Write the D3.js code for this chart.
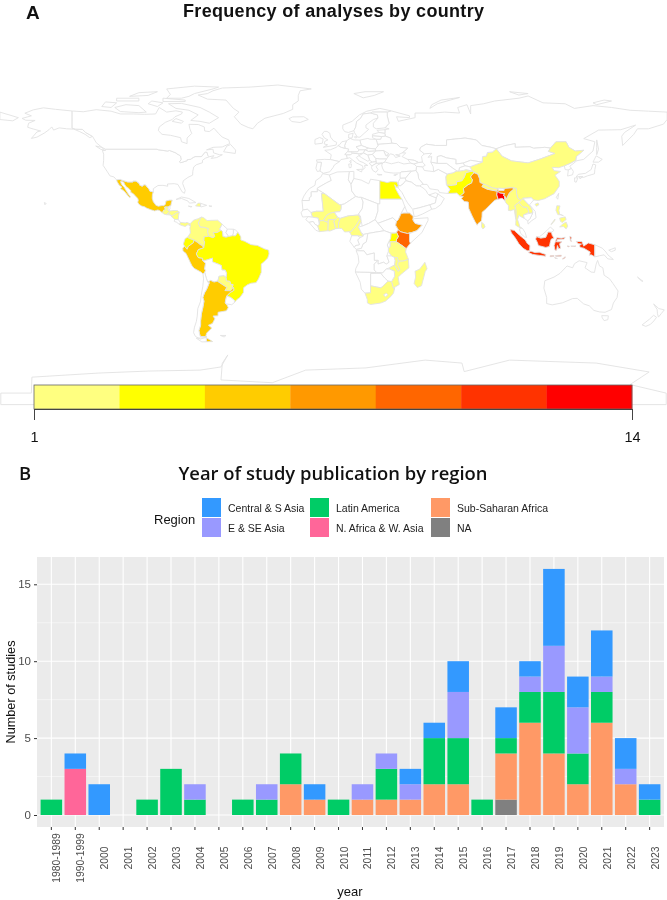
<!DOCTYPE html>
<html>
<head>
<meta charset="utf-8">
<title>Frequency of analyses and year of publication</title>
<script src="https://cdn.jsdelivr.net/npm/d3@7"></script>
<style>
  html, body { margin: 0; padding: 0; background: #fff; }
  svg { display: block; font-family: "Liberation Sans", Arial, sans-serif; filter: blur(0.35px); }
  .heading { font-family: "Open Sans", sans-serif; font-weight: 600; fill: #111; }
  .land { stroke: #e2e2e2; stroke-width: 0.9; stroke-linejoin: round; }
  .y-axis text, .x-axis text { fill: #4d4d4d; }
  .y-axis line, .x-axis line { stroke: #333; }
</style>
</head>
<body>
<script>
// Bar chart data
const years = ["1980-1989", "1990-1999", "2000", "2001", "2002", "2003", "2004", "2005", "2006", "2007", "2008", "2009", "2010", "2011", "2012", "2013", "2014", "2015", "2016", "2017", "2018", "2019", "2020", "2021", "2022", "2023"];
const naRegion     = [0,0,0,0,0,0,0,0,0,0,0,0,0,0,0,0,0,0,0,1,0,0,0,0,0,0];
const subSaharan   = [0,0,0,0,0,0,0,0,0,0,2,1,0,1,1,1,2,2,0,3,6,4,2,6,2,0];
const nAfricaWAsia = [0,3,0,0,0,0,0,0,0,0,0,0,0,0,0,0,0,0,0,0,0,0,0,0,0,0];
const latinAmerica = [1,0,0,0,1,3,1,0,1,1,2,0,1,0,2,0,3,3,1,1,2,4,2,2,0,1];
const eastSEAsia   = [0,0,0,0,0,0,1,0,0,1,0,0,0,1,1,1,0,3,0,0,1,3,3,1,1,0];
const centralSAsia = [0,1,2,0,0,0,0,0,0,0,0,1,0,0,0,1,1,2,0,2,1,5,2,3,2,1];
const regionKeys = ["NA", "Sub-Saharan Africa", "N. Africa & W. Asia", "Latin America", "E & SE Asia", "Central & S Asia"];
const regionValues = [naRegion, subSaharan, nAfricaWAsia, latinAmerica, eastSEAsia, centralSAsia];
const regionColors = ["#808080", "#FF9966", "#FF6699", "#00CC66", "#9999FF", "#3399FF"];
const legendOrder = ["Central & S Asia", "E & SE Asia", "Latin America", "N. Africa & W. Asia", "Sub-Saharan Africa", "NA"];
const yTicks = [0, 5, 10, 15];
const yMinorTicks = [2.5, 7.5, 12.5];

// Map data
const heatColors = ["#FFFF80", "#FFFF00", "#FFCC00", "#FF9900", "#FF6600", "#FF3300", "#FF0000"];
const countRange = [1, 14];
const analysisCounts = {
  Mexico: 5, Guatemala: 1, Honduras: 1, Nicaragua: 1, ElSalvador: 1, Panama: 1, Haiti: 1,
  Colombia: 1, Venezuela: 1, Ecuador: 3, Peru: 5, Brazil: 3, Paraguay: 1, Argentina: 5,
  Egypt: 3, Mali: 1, Burkina: 1, IvoryCoast: 1, Ghana: 1, TogoBenin: 1, Nigeria: 1, Cameroon: 1,
  Ethiopia: 7, Kenya: 9, Uganda: 3, Tanzania: 1, Malawi: 1, Mozambique: 1, Madagascar: 1, SouthAfrica: 1,
  Afghanistan: 1, Pakistan: 3, India: 7, Bangladesh: 14, Nepal: 1, SriLanka: 1, China: 1,
  Myanmar: 1, Thailand: 1, Laos: 1, Philippines: 1, Indonesia: 11
};

// Rough country outlines as "lon,lat lon,lat ..." rings
const countryOutlines = {
  Mexico: ["-117.1,32.5 -114.7,32.7 -114.8,32.5 -111,31.3 -108.2,31.3 -108.2,31.8 -106.5,31.8 -104.9,30.6 -104.5,29.6 -103.1,29 -102.4,29.8 -101.4,29.8 -100.3,28.3 -99.5,27.5 -99.1,26.4 -97.2,25.9 -97.7,24.5 -97.8,22.5 -97.2,20.6 -96.2,19.3 -95.9,18.8 -94.5,18.2 -92.5,18.6 -91.5,18.5 -90.7,19.3 -90.4,21 -88.5,21.5 -87,21.5 -87.5,20 -87.8,18.4 -88.3,18.5 -88.9,17.9 -89.15,17.8 -91,17.8 -91,17.2 -90.4,16.4 -91.7,16 -92.2,14.6 -93.9,15.9 -94.8,16.2 -96.5,15.7 -98.5,16.3 -100.8,17.2 -101.9,17.9 -103.5,18.3 -105,19.3 -105.6,20.4 -105.3,21.5 -105.7,22.5 -106.9,23.8 -108,25 -109.4,25.7 -109.3,26.6 -110.6,27.9 -111.8,28.7 -112.8,30.2 -113.1,31.2 -114.8,31.8 -114.7,30.9 -114.2,29.8 -112.9,28.4 -112,26.9 -110.7,24.8 -109.5,23.2 -110,22.9 -111,24 -112.2,25.5 -113.5,26.8 -114.9,27.7 -114.2,28.6 -115.6,29.6 -116.7,31.4"],
  Guatemala: ["-92.2,14.6 -91.7,16 -90.4,16.4 -91,17.2 -91,17.8 -89.15,17.8 -89.2,15.9 -88.2,15.7 -89.2,14.4 -90,13.7 -91.3,13.9"],
  Belize: ["-88.3,18.5 -88.9,17.9 -89.15,17.8 -89.2,15.9 -88.7,16 -88.2,16.9"],
  Honduras: ["-88.2,15.7 -86,15.9 -84,15.8 -83.2,15 -84.5,14.7 -85.7,13.9 -87,13 -87.8,13.4 -89.2,14.4"],
  Nicaragua: ["-83.2,15 -83.6,13 -83.7,11 -85.7,11.1 -87.7,12.9 -87,13 -85.7,13.9 -84.5,14.7"],
  ElSalvador: ["-89.2,14.4 -87.8,13.4 -90,13.7"],
  CostaRica: ["-83.7,11 -82.6,9.5 -83,8.3 -84.7,9.6 -85.9,10 -85.7,11.1"],
  Panama: ["-83,8.3 -82.6,9.5 -80,9.2 -79,9.5 -77.4,8.7 -77.2,7.5 -78.5,8.3 -80,7.3 -81.7,7.8"],
  Colombia: ["-77.4,8.7 -75.5,10.7 -73,11.5 -71.3,12.4 -72,11 -72.9,9.1 -72,7.1 -70,6.9 -67.5,6.2 -67.9,4.5 -67.3,2 -69.8,1.7 -69.9,-0.3 -69.5,-1 -70,-4.2 -70.9,-3 -72,-2.4 -73.5,-1.2 -75.2,-0.1 -77.7,0.8 -78.8,1.4 -77.2,3.8 -77.5,6.6 -77.2,7.5"],
  Venezuela: ["-71.3,12.4 -72,11 -72.9,9.1 -72,7.1 -70,6.9 -67.5,6.2 -67.9,4.5 -67.3,2 -65,1.2 -64,1.9 -64.8,4 -62.8,4 -60.7,5.2 -61.4,5.9 -60,8.5 -62.5,10.7 -66,10.6 -68.2,10.5 -70,12"],
  Guyana: ["-61.4,5.9 -60.7,5.2 -59.9,4.5 -59.7,1.9 -58,1.5 -56.5,1.9 -58,4 -57.2,5.9 -58.5,7 -60,8.5"],
  Suriname: ["-57.2,5.9 -58,4 -56.5,1.9 -54.5,2.3 -54,3.6 -54,5.8"],
  FrenchGuiana: ["-54,5.8 -54,3.6 -54.5,2.3 -52.9,2.2 -51.6,4.2 -52.9,5.4"],
  Ecuador: ["-80.3,-3.4 -81,-2.2 -80,0.8 -78.8,1.4 -77.7,0.8 -75.2,-0.1 -75.6,-1.5 -78.3,-3.4 -79,-5"],
  Peru: ["-80.3,-3.4 -79,-5 -78.3,-3.4 -75.6,-1.5 -75.2,-0.1 -73.5,-1.2 -72,-2.4 -70.9,-3 -70,-4.2 -72.9,-5.2 -74,-7.5 -72.9,-9.5 -70.6,-9.8 -70.6,-11 -69,-12.5 -69.5,-15.5 -69,-16.5 -69.5,-17.5 -70.4,-18.3 -71.5,-17.3 -75.2,-15.3 -76.4,-13.8 -77.3,-12 -78.7,-9 -79.6,-7.2 -81.2,-6 -81.3,-4.3"],
  Brazil: ["-51.6,4.2 -50,1.7 -50,0 -48,-0.7 -44.5,-2.5 -41,-3 -37.2,-4.8 -35,-5.5 -34.8,-7.5 -35.5,-9.7 -37.5,-11.8 -39,-13 -39,-17.5 -40.5,-21 -41.8,-23 -44.5,-23.3 -46.5,-24.2 -48.5,-25.7 -48.6,-28.3 -50.5,-31 -52.2,-32.2 -53.4,-33.7 -53.5,-32.5 -55.5,-31 -57.6,-30.2 -55.8,-28.3 -53.8,-27.2 -53.9,-25.7 -54.6,-25.5 -54.2,-24 -55.5,-23.9 -55.9,-22.3 -57.8,-22.1 -58,-20.2 -57.7,-18 -58.4,-16.3 -60.2,-16.2 -60.5,-13.8 -62,-13.1 -65.3,-11.8 -65.3,-9.8 -69,-11 -70.6,-11 -70.6,-9.8 -72.9,-9.5 -74,-7.5 -72.9,-5.2 -70,-4.2 -69.5,-1 -69.9,-0.3 -69.8,1.7 -67.3,2 -65,1.2 -64,1.9 -64.8,4 -62.8,4 -60.7,5.2 -59.9,4.5 -59.7,1.9 -58,1.5 -56.5,1.9 -54.5,2.3 -52.9,2.2"],
  Bolivia: ["-69,-11 -65.3,-9.8 -65.3,-11.8 -62,-13.1 -60.5,-13.8 -60.2,-16.2 -58.4,-16.3 -57.7,-18 -58,-20.2 -59.1,-19.3 -61.8,-19.6 -62.3,-21.9 -62.7,-22.2 -64.4,-22.7 -66.3,-21.8 -67.8,-22.8 -68.5,-21 -69.5,-17.5 -69,-16.5 -69.5,-15.5 -69,-12.5 -70.6,-11"],
  Paraguay: ["-58,-20.2 -57.8,-22.1 -55.9,-22.3 -55.5,-23.9 -54.2,-24 -54.6,-25.5 -54.6,-26.5 -55.7,-27.4 -58.6,-27.3 -57.6,-25.6 -58.8,-24.8 -62.7,-22.2 -62.3,-21.9 -61.8,-19.6 -59.1,-19.3"],
  Argentina: ["-66.3,-21.8 -64.4,-22.7 -62.7,-22.2 -58.8,-24.8 -57.6,-25.6 -58.6,-27.3 -55.7,-27.4 -54.6,-26.5 -54.6,-25.5 -53.9,-25.7 -53.8,-27.2 -55.8,-28.3 -57.6,-30.2 -58.2,-32.5 -58.4,-34 -57.2,-35.5 -56.8,-36.5 -57.8,-38.2 -62.3,-39 -62.3,-40.9 -65,-41 -64,-42.5 -65.3,-45 -67.5,-46 -65.7,-47.5 -68.4,-50.2 -68.9,-51.8 -68.4,-52.3 -71.9,-52 -72.3,-50.5 -72.6,-48.8 -71.7,-46 -71.7,-43.5 -71.2,-39.5 -70.4,-36 -69.9,-33 -70.5,-31 -69.6,-28.5 -68.4,-26.5 -67,-23 -67.8,-22.8", "-68.6,-52.7 -65.2,-54.8 -68.6,-54.9"],
  Chile: ["-69.5,-17.5 -70.4,-18.3 -70.1,-21 -70.5,-25 -71.4,-30 -71.7,-33 -73.2,-37 -73.5,-41 -74,-44 -75,-47 -75.5,-50 -74.5,-52 -71.9,-53.5 -68.4,-52.3 -71.9,-52 -72.3,-50.5 -72.6,-48.8 -71.7,-46 -71.7,-43.5 -71.2,-39.5 -70.4,-36 -69.9,-33 -70.5,-31 -69.6,-28.5 -68.4,-26.5 -67,-23 -67.8,-22.8 -68.5,-21", "-68.6,-52.7 -68.6,-54.9 -71,-55 -74,-53"],
  Uruguay: ["-57.6,-30.2 -55.5,-31 -53.5,-32.5 -53.4,-33.7 -54.9,-34.9 -57.8,-34.5 -58.4,-34 -58.2,-32.5"],
  Falklands: ["-61,-51.5 -58,-51.5 -59,-52.3"],
  USA: ["-123,49 -95.2,49 -94.6,48.7 -89.6,48 -88.4,48.3 -84.8,46.9 -84.5,46.4 -83.5,46 -82.5,45.3 -82.1,43.5 -83.1,42.1 -82.4,41.7 -79,42.8 -79,43.3 -76.8,43.6 -76.3,44.2 -74.7,45 -71.5,45 -70.8,45.4 -70,46.7 -69.2,47.4 -68.2,47.3 -67.8,45.7 -67,44.9 -69,44.2 -70.7,43 -70.7,41.7 -74,40.6 -75.4,39.4 -75.9,37.1 -76,35 -78.5,33.8 -81,32 -81.4,30.5 -80,26.8 -80.4,25.2 -81.7,26 -82.8,28 -84,30 -86,30.4 -89.6,30.2 -89.4,29 -92,29.5 -94.7,29.4 -97.2,27.7 -97.2,25.9 -99.1,26.4 -99.5,27.5 -100.3,28.3 -101.4,29.8 -102.4,29.8 -103.1,29 -104.5,29.6 -104.9,30.6 -106.5,31.8 -108.2,31.8 -108.2,31.3 -111,31.3 -114.8,32.5 -114.7,32.7 -117.1,32.5 -118.4,34 -120.6,34.6 -122,36.8 -124.3,40.3 -124,43 -124,46.3 -124.7,48.4 -123,48.3",
    "-141,69.6 -141,60.3 -139,59.8 -135.5,59.7 -133.7,58 -130,55.9 -131.5,55.2 -134,57 -137,58.5 -140,59.8 -144,60 -148,60.5 -151,59.3 -152,61 -153.5,59.5 -156,57.7 -160,55.5 -163,54.8 -160,58.3 -158,58.8 -162,59.9 -165,60.8 -164.5,63 -161,64.5 -166,64.6 -168,65.6 -163,67 -166.5,68.4 -162,70.2 -156.5,71.3 -150,70.5",
    "-156,20.2 -155,19.7 -155.7,19"],
  Canada: ["-141,69.6 -141,60.3 -139,59.8 -135.5,59.7 -133.7,58 -130,55.9 -128,52.5 -125,50 -123,49 -95.2,49 -94.6,48.7 -89.6,48 -88.4,48.3 -84.8,46.9 -84.5,46.4 -83.5,46 -82.5,45.3 -82.1,43.5 -83.1,42.1 -82.4,41.7 -79,42.8 -79,43.3 -76.8,43.6 -76.3,44.2 -74.7,45 -71.5,45 -70.8,45.4 -70,46.7 -69.2,47.4 -68.2,47.3 -67.8,45.7 -67,44.9 -64.5,45.5 -66,44 -63,44.5 -60,46 -61.5,46 -64.7,47 -65,49 -68.5,48.6 -65,50 -60,50.2 -56,52 -56.5,54 -60,55.5 -62,57.5 -64.5,60.3 -67,58.5 -69.5,58.8 -69.7,61 -73,62.3 -78,62.4 -77.5,60 -76.5,57.5 -79,55 -79,52 -82,53 -82.5,55.2 -88,56.5 -92.5,57 -94.5,59 -94,61 -90.7,63.5 -87,65 -85.5,66.5 -82,68 -81.5,69 -85,69.7 -90,69 -94,71.5 -96,68 -102,67.8 -108,68 -115,68 -120,69.5 -128,70.3 -135,69.2",
    "-62,66 -67,63 -72,64 -77,64.5 -73,67.5 -78,70 -85,71 -89,73.5 -82,73.7 -72,71.5 -67,69",
    "-105,68.7 -115,69.3 -118,71.5 -112,73 -105,72.5 -101,69",
    "-90,76.5 -82,76.5 -78,77.5 -75,79 -65,81.5 -62,82.5 -75,83 -90,81.5 -88,78.5",
    "-125,72 -120,71.5 -117,74 -123,74.5", "-92,74.7 -80,74.7 -80,75.5 -92,76.5", "-117,75 -105,75 -105,76.5 -117,76.5",
    "-87,64 -82,63 -81,64 -85,65.5", "-59.3,47.6 -53,46.7 -52.8,48.5 -55.5,51.5 -57.5,50.7", "-128.3,50.7 -125,50 -123.5,48.4 -125.5,48.9",
    "-100,73.5 -95,72 -92,74 -98,75", "-110,77.5 -100,78 -95,80 -105,79.5"],
  Cuba: ["-84.9,21.9 -82,23.2 -78,22.4 -74.2,20.2 -77.7,19.9 -78.5,21 -82,22.4"],
  Haiti: ["-74.4,18.4 -73,19.9 -71.7,19.8 -71.7,18.1"],
  DominicanRep: ["-71.7,19.8 -68.4,18.7 -71.5,17.8 -71.7,18.1"],
  Jamaica: ["-78.3,18.3 -76.3,18 -77,17.8"],
  PuertoRico: ["-67.2,18.4 -65.6,18.3 -66,18"],
  Greenland: ["-73,78.2 -68,76 -58,75.5 -54,71 -51,69 -53.5,66.5 -50,62.5 -46,60.7 -43.5,60 -41,63 -37,65.7 -27,68.3 -22,70.5 -22,73 -19,75 -19,78 -18,80.5 -12,81.5 -30,83.6 -45,82.5 -60,82 -65,80.5 -68,79"],
  Iceland: ["-24,65.5 -22,66.4 -16,66.5 -13.6,65 -18,63.4 -22.5,63.9"],
  Svalbard: ["11,79 17,80 27,80 22,78 16,76.7"],
  Russia: ["31,69.7 41,67 41,66 34,66.5 35,64 38,64.7 44,66 44,68.5 54,68.5 60,69 68,68.5 67,71.5 72,73 74,68 74,72.5 81,73.5 87,75 100,76.5 105,77.7 113,74 125,73.5 130,71 140,72.5 150,71.5 160,70 170,69.5 180,69 180,65 178,62.5 170,60 164,60 162,57 156,51 155.5,56 157,58 163,62 155,59.5 143,59.3 135,54.7 141,53 140,48 135,43.5 131,42.7 130.7,43 131,45 135,48.4 130.5,48 127,50 125.5,53 120,53 117,49.6 114,50 108,49.5 106,50.3 98,50 98,52 92,50.8 87.8,49.2 85,50 80,51 77,54 71,55 61,54 61,51 55,51 50,51.7 47,50 46.5,48.5 49,46.5 47.5,45 48,42 46,41.8 43.5,43 40,43.5 37,45 39,47 37,47 40,49.5 36,50 34,52 31.5,52.2 30.8,55 28,56 27.7,57.5 27.8,59.5 30,60 27.8,60.5 30,63 29,66.9 29,69",
    "-180,69 -170,66 -173,64.3 -180,65", "52,71 56,73.5 68,76.9 58,75.5 53,73", "142,54 143,49 142,46 142,50", "95,80 105,79 100,78.2", "140,74 146,75.5 150,75 142,73"],
  Japan: ["130.9,34 132,35.4 136,36 139,38 140,41 141.5,40.5 141,38 140.8,35.7 137,34.6 135,33.8 132.5,34.2", "140,42 141.7,45.4 145,43.5 143,42", "130,33.5 131.8,33.5 131,31.2 130.2,31.3", "132.5,34 134.5,34.2 133,33"],
  NorthKorea: ["124.5,40 128,41.5 130.7,43 130.7,42.3 127.5,39.8 128.4,38.6 126.7,37.8 125,38"],
  SouthKorea: ["126.7,37.8 128.4,38.6 129.4,37 129,35.2 126.3,34.5"],
  Mongolia: ["87.8,49.2 92,50.8 98,52 98,50 106,50.3 108,49.5 114,50 117,49.6 116,47.8 119.5,46.7 111.5,43.7 105,41.6 96,42.7 91,45.2"],
  China: ["73.6,39.5 80.2,42 80.4,45 82.5,45.3 83,47.2 85.7,47.5 87.8,49.2 91,45.2 96,42.7 105,41.6 111.5,43.7 119.5,46.7 116,47.8 117,49.6 120,53 125.5,53 127,50 130.5,48 135,48.4 131,45 130.7,43 128,41.5 124.5,40 121.5,39 118,39.2 119,37.4 122.5,37 119.5,35 121.8,31.7 121.8,29 119,25 114,22.3 110.5,21.3 108,21.6 106.7,22.8 102.2,22.5 101.2,21.3 99.5,22.5 98.7,25 98.7,27.7 97,28.2 92,27.8 89,27.9 88.2,27.8 86,28 81,30.2 79,31 78.8,33 78,35.5 74.8,37.2", "108.7,19.3 110.4,20 110.8,19 109.5,18.2"],
  Taiwan: ["120.2,23 121.5,25.2 121,22"],
  India: ["77.8,35.5 78.8,33 79,31 81,30.2 80.1,28.8 83,27.4 88.1,26.4 88.2,27.8 89,26.8 92,26.8 92,27.8 97,28.2 97,27.2 95,25.5 94,23.5 93.3,22 92.3,23.7 91.5,24.2 92.4,25 89.8,25.3 88.4,26.3 88.1,24.4 88.8,22 87,21.5 85,19.5 82,16.5 80.2,15 80.1,12.5 79.8,10.3 78,8.9 77.5,8 76.3,10 74.8,13 73,17 72.7,20.5 70.5,20.8 69,22.4 70,23.5 68.2,23.7 70.4,25.5 70,27.8 72.5,29.8 74.5,30.8 74.9,32.5 73.9,34 74.4,35 75.8,36.3"],
  Bangladesh: ["88.1,24.4 88.4,26.3 89.8,25.3 92.4,25 91.5,24.2 92.3,23.7 92.6,21 91,22.5 88.8,22"],
  Nepal: ["80.1,28.8 81,30.2 86,28 88.2,27.8 88.1,26.4 83,27.4"],
  Bhutan: ["89,26.8 89,27.9 92,27.8 92,26.8"],
  Pakistan: ["60.9,29.8 63.3,29.5 66.3,29.9 66.5,31.5 69.3,32 70.5,33.9 71.5,36.4 74.8,37.2 75.8,36.3 74.4,35 73.9,34 74.9,32.5 74.5,30.8 72.5,29.8 70,27.8 70.4,25.5 68.2,23.7 66.5,25.3 61.6,25.1 62.8,27.2"],
  Afghanistan: ["60.9,29.8 60.5,34 61.3,35.6 64.5,36.3 66.5,37.3 70,37.5 71.5,38 74.8,37.2 71.5,36.4 70.5,33.9 69.3,32 66.5,31.5 66.3,29.9 63.3,29.5"],
  SriLanka: ["79.9,9.6 81.2,8.5 81.8,7 80.6,6 79.9,7"],
  Iran: ["44.8,39.7 48,39.5 49,37.5 54,36.9 56.5,38.1 61.3,35.6 60.5,34 60.9,29.8 62.8,27.2 61.6,25.1 57.2,25.6 56.5,27 52,27.6 50.5,30 48.5,30 46,33 45.5,35.8 44.5,37.5"],
  Iraq: ["38.8,33.4 42,37.2 44.5,37.5 45.5,35.8 46,33 48.5,30 47.7,30 46.5,29.1 44.7,29.2 42,31.2 39,32"],
  Turkey: ["26,40.4 26.7,41.9 28,42 31.2,41.1 35,42 38,41 41.6,41.5 43.5,41 44.8,39.7 44.5,37.5 42,37.2 36.5,36.7 36,36.2 32.5,36.1 30.5,36.3 27.5,36.8 26.4,38.8"],
  Syria: ["36,36.2 36.5,36.7 42,37.2 38.8,33.4 36,33.3 35.9,35"],
  Jordan: ["34.9,29.5 36,29.2 37.5,30.2 39,32 38.8,33.4 36,33.3 35,31.5"],
  SaudiArabia: ["34.9,29.5 36,29.2 37.5,30.2 39,32 42,31.2 44.7,29.2 46.5,29.1 47.7,28.5 48.8,27.7 50,26.6 50.8,25 51.5,24.3 55.5,22.7 55,20 52,19 48.5,18 46,17.3 43.2,16.7 42.8,16.4 40,20 38.8,22 37,25.5 35,28"],
  Yemen: ["42.8,16.4 43.2,16.7 46,17.3 48.5,18 52,19 53,16.6 48,14 45,12.8 43.5,12.7"],
  Oman: ["52,19 55,20 55.5,22.7 56.3,24.9 59.8,22.4 57.8,19 55,17 53,16.6"],
  UAE: ["51.5,24.3 55.5,22.7 56.3,24.9 55,25.5"],
  Kazakhstan: ["47,50 50,51.7 55,51 61,51 61,54 71,55 77,54 80,51 85,50 87.8,49.2 85.7,47.5 83,47.2 82.5,45.3 80.4,45 80.2,42 74,43 70,41.5 66,41 66,43.5 61,44.3 58,45.5 56,45 56,41.3 52.5,42 53,45 51,44.6 53,46.8 49,46.5 46.5,48.5"],
  Uzbekistan: ["56,41.3 56,45 58,45.5 61,44.3 66,43.5 66,41 70,41.5 71,40 68,39 67.7,37.2 66.5,37.3 64,39 61,41.3"],
  Turkmenistan: ["52.5,42 56,41.3 61,41.3 64,39 66.5,37.3 64.5,36.3 61.3,35.6 56.5,38.1 54,36.9 53.8,39.5"],
  Kyrgyzstan: ["70,41.5 74,43 80.2,42 73.6,39.5 71,40"],
  Tajikistan: ["68,39 71,40 73.6,39.5 74.8,37.2 71.5,38 70,37.5 67.7,37.2"],
  Georgia: ["40,43.5 43.5,43 46,41.8 43.5,41 41.6,41.5"],
  Azerbaijan: ["43.5,41 46,41.8 48,42 49.5,40.3 48,39.5 44.8,39.7"],
  Myanmar: ["92.6,21 92.3,23.7 93.3,22 94,23.5 95,25.5 97,27.2 97,28.2 98.7,27.7 98.7,25 99.5,22.5 101.2,21.3 100,20.3 97.8,18.5 98.5,16 98.5,12 98.9,10 98.2,12 97.5,16.5 95.5,15.8 94.3,16 94.4,18.5 92.8,20.3"],
  Thailand: ["100,20.3 101,19 102,18 104.5,17.5 105.5,15 102.5,13.5 102.9,11.7 100.9,12.7 100,13.3 99.3,11 100,9 100.6,7 102,6.2 100.8,6.5 98.3,8 98.5,12 98.5,16 97.8,18.5"],
  Laos: ["101.2,21.3 102.2,22.5 104,20.5 106.5,17.8 107.5,15.8 107.5,14.6 105.5,14.3 105.5,15 104.5,17.5 102,18 101,19 100,20.3"],
  Vietnam: ["102.2,22.5 106.7,22.8 108,21.6 105.8,19 108.8,15.5 109.3,12 107,10.5 105,8.6 104.8,10.3 106,11.5 107.5,14.6 107.5,15.8 106.5,17.8 104,20.5"],
  Cambodia: ["102.9,11.7 102.5,13.5 105.5,14.3 107.5,14.6 106,11.5 104.8,10.3"],
  Malaysia: ["100.8,6.5 102,6.2 103.4,4 104.2,1.4 103,1.7 101,3.5 100.4,5.5", "109.6,1.8 111.8,1 114.5,1.4 115.8,4.3 117.6,4.2 119,5.2 117,7 115,5 113,3.2 111,1.7"],
  Indonesia: ["109,0.5 109.6,1.8 111.8,1 114.5,1.4 115.8,4.3 117.6,4.2 118,2.5 119,1 117.5,0.5 117,-1 116.5,-3.5 114.5,-4 110.5,-3 110,-1.3",
    "95.3,5.6 97.5,5.2 100.4,2.5 103.5,0 104.5,-1.8 106,-3 105.8,-5.8 104.5,-5.8 102.3,-4.5 100,-2 98,1.2 96,3.8",
    "105.2,-6.8 106.5,-6 108.5,-6.7 111,-6.6 114.5,-7.8 114.4,-8.7 111,-8.3 107.5,-7.8",
    "119.5,-5.5 119,-3 120,0 120.5,1.2 123,1 125,1.5 124.5,0.5 120.8,0.3 120.3,-1 121.5,-1 123.3,-1 122,-2 122.5,-4.5 121.5,-4.7 120.8,-3 120.4,-5.5",
    "116.8,-8.5 119,-8.4 118.9,-8.9 116.8,-9", "119.8,-8.4 122.9,-8.2 122.8,-8.8 120,-8.9", "123.5,-10.3 125,-9 125,-9.6 124,-10.2", "119.2,-9.5 120.8,-10 119.8,-9.9",
    "127.5,1.9 128.5,1.5 128,0 128.5,-0.8 127.8,-0.5", "128,-3.2 130.8,-3.2 130,-3.5 128.2,-3.4", "126,-3.2 127.2,-3.3 127,-3.8",
    "131,-0.8 134,-0.8 135,-3.3 137.5,-1.6 141,-2.6 141,-9.1 139,-8 138,-8.2 138.5,-6.5 135,-4.4 133,-4 132.8,-2.8 133.8,-2.2 132,-2"],
  PapuaNewGuinea: ["141,-2.6 145,-4.4 147,-6.5 148,-8 151,-10.5 148,-10.2 146,-8 143.5,-8.5 141,-9.1", "148.5,-5.5 152,-4.2 152,-5.5 150,-6.3"],
  Philippines: ["120.5,18.5 122.2,18.4 121.6,16 122,14 124,13 123.5,13.5 121,13.7 120,16", "122,7 123.5,8.5 125.5,9.7 126.4,7.5 125.5,6 124,7.3", "122,11.8 125,12.5 125.5,11 123.5,9.5 122.5,10", "117.3,8.4 119.5,11.3 119.3,10.4 117.5,8.3"],
  Australia: ["114,-22 113.5,-26 115,-31 115,-34.3 118,-35 123.5,-33.9 129,-31.6 131.5,-31.5 135,-34.5 138,-35.5 140.5,-38 143.5,-38.8 146.5,-39 150,-37.5 151,-34 153,-31 153.5,-27.5 150.8,-23.5 149,-21 146,-19 145.3,-15 143.5,-14 142.5,-11 141.7,-13 140.8,-17.5 139,-17.3 135.7,-15 136.8,-12.2 132.5,-11.2 130,-12.8 129,-15 126,-14 122.2,-18 119,-20", "144.7,-40.8 148.3,-40.9 148,-43 146,-43.5 145,-42"],
  NewZealand: ["172.7,-34.5 175.5,-37 178.5,-37.7 177,-39.5 175.3,-41.6 174.8,-39.8 174.6,-37.5", "172.7,-40.6 174.3,-41.7 172.8,-43.7 171,-45.5 168.5,-46.6 166.5,-45.8 170.5,-42.7"],
  NewCaledonia: ["164,-20 167,-22.3 166,-22"],
  Norway: ["5,60 5,62 10,64 14,67.5 18,69.5 25,71 31,69.7 29,69 25.5,69 21,69 20,68.5 16,68 14.5,65.5 12.5,64 12,61 11,59 8,58 6,58.5"],
  Sweden: ["11,59 12,61 12.5,64 14.5,65.5 16,68 20,68.5 23.7,67.5 24,65.8 21.5,65 17.5,62 17.5,60.5 19,59.7 16.5,57.5 14.3,55.5 12.9,55.5 11.3,58"],
  Finland: ["24,65.8 23.7,67.5 20,68.5 21,69 25.5,69 29,69 29,66.9 30,63 27.8,60.5 23,60 21.5,61 21.5,63"],
  Estonia: ["23.5,59.2 27.8,59.5 27.7,57.5 24.5,58"],
  Latvia: ["21,57 24.5,58 27.7,57.5 28,56 26,55.8 21,56.2"],
  Lithuania: ["21,56.2 26,55.8 25.5,54.3 23,54.3 21,55.2"],
  Belarus: ["23,54.3 25.5,54.3 26,55.8 28,56 30.8,55 31.5,52.2 24,51.6 23.5,52.6"],
  Ukraine: ["24,51.6 31.5,52.2 34,52 36,50 40,49.5 37,47 35,46 33.5,46 36,45.3 33.5,44.5 32.5,46 30.7,46.5 29.7,45.3 28.2,45.5 27,48.3 22.8,48 22.5,49.1 24,50.8"],
  Moldova: ["27,48.3 28.2,45.5 30,46.5"],
  Poland: ["14.2,53.9 18.5,54.8 19.6,54.4 23,54.3 23.5,52.6 24,50.8 22.5,49.1 19,49.5 15,51"],
  Germany: ["6,51 7,53.5 9,54.8 11,54 14.2,53.9 15,51 12.2,50.3 13.8,48.7 13,47.5 7.6,47.6 8.2,49 6.2,49.5"],
  France: ["2.5,51 4.2,50 6.2,49.5 8.2,49 7.6,47.6 6.1,46.2 7,45.9 7.5,44 4,43.4 3.2,42.3 -1.7,43.4 -1.2,46 -4.7,48.4 -1.6,48.7 1.5,50"],
  Spain: ["-1.7,43.4 3.2,42.3 0.5,40.5 -0.3,39 -2,36.8 -5.4,36 -7.4,37.2 -7,39 -6.5,41.9 -8.8,41.9 -9.2,43.2 -5,43.5"],
  Portugal: ["-8.8,37 -7.4,37.2 -7,39 -6.5,41.9 -8.8,41.9 -9.5,38.7"],
  UnitedKingdom: ["-5.5,50 1.4,51.2 1.7,52.7 0,53.5 -1.6,55.5 -2,57.6 -3.5,58.6 -5,58.6 -6.2,57 -4.9,55 -3,54 -4.7,53.2 -5,51.8 -3.2,51.4"],
  Ireland: ["-6,52.2 -10,51.7 -10,54.2 -7.5,55.3 -5.6,54.5"],
  Benelux: ["2.5,51 3.4,51.5 4.5,53 7,53.5 6,51 6.2,49.5 4.2,50"],
  Denmark: ["8.2,55 8.2,57 10.6,57.6 10,55", "11.2,55.7 12.6,55.7 12,54.9"],
  Switzerland: ["6.1,46.2 7.6,47.6 9.6,47.5 10.4,46.8 9,45.9 7,45.9"],
  Austria: ["9.6,47.5 13,47.5 13.8,48.7 17,48.7 16.2,46.9 13.7,46.5 10.4,46.8"],
  Czechia: ["12.2,50.3 15,51 19,49.5 17,48.7 13.8,48.7"],
  Slovakia: ["17,48.7 19,49.5 22.5,49.1 22.8,48 18.8,47.8"],
  Hungary: ["16.2,46.9 17,48.7 18.8,47.8 22.8,48 21,46.2 18.5,45.8"],
  Romania: ["22.8,48 27,48.3 28.2,45.5 29.7,45.3 28.6,43.7 25,43.7 22.7,44 21,46.2"],
  Bulgaria: ["22.7,44 25,43.7 28.6,43.7 27.5,42 26.3,41.5 23,41.3"],
  Serbia: ["18.5,45.8 21,46.2 22.7,44 23,42.3 21,42 19.5,43"],
  Croatia: ["13.7,45.5 16.2,46.9 18.5,45.8 19.5,43 18.5,42.5 15,44.5"],
  Albania: ["19.4,41.5 21,42 23,42.3 23,41.3 20.8,40 19.5,41"],
  Greece: ["20.8,40 23,41.3 26.3,41.5 24,40.7 23,39.5 24,38 22.9,36.5 21.2,37.5 20.5,39", "23.6,35.5 26.2,35.2 24.5,35"],
  Italy: ["7,45.9 9,45.9 10.4,46.8 13.7,46.5 13.7,45.5 12.3,44.5 14,42.5 16,41.8 18.5,40.2 16.8,40.3 17,39 16,38 15.7,40 12.5,41.5 10.5,43 8.8,44.4 7.5,44", "12.5,38 15.6,38.2 15.1,36.7", "8.2,41 9.7,41 9.5,39.1 8.5,39"],
  Corsica: ["8.7,42.5 9.5,43 9.4,41.5"],
  Cyprus: ["32.5,35 34.5,35.6 33.7,34.8"],
  Morocco: ["-5.9,35.8 -2.2,35.1 -1.2,32.1 -3.7,30.9 -8.7,28 -8.7,26 -12,26 -12,23.5 -13,22.8 -13,21.3 -17,21.3 -16,23.7 -14.5,26 -13,27.7 -10,29.5 -9.6,32 -6.8,34"],
  Algeria: ["-2.2,35.1 -1.2,32.1 -3.7,30.9 -8.7,28 -8.7,27.3 -4.8,25 3.3,19 4.2,19.1 5.8,19.4 12,23.5 9.8,26.5 9.5,30 8,32.5 8.6,36.9 2,36.7"],
  Tunisia: ["8.6,36.9 11,37 11,33.2 9.5,30 8,32.5"],
  Libya: ["9.5,30 11,33.2 15,32.3 19,30.3 20,32.8 25,32 25,19.5 24,19.5 15,23 13.5,23 12,23.5 9.8,26.5"],
  Egypt: ["25,32 29,31 31,31.5 34.3,31.3 34.9,29.5 34.4,28 33,29.8 33.6,27.5 35.5,24 37,22 25,22"],
  Mauritania: ["-17,21.3 -13,21.3 -13,22.8 -12,23.5 -12,26 -8.7,26 -8.7,27.3 -4.8,25 -6.5,25 -5.5,15.5 -9.3,15.5 -12.2,14.8 -14,16.6 -16.5,16.2"],
  Mali: ["-12.2,14.8 -9.3,15.5 -5.5,15.5 -6.5,25 -4.8,25 3.3,19 4.2,19.1 4.2,16.8 3.5,15.3 0.5,15 -1.5,14.5 -3.5,13.5 -5.5,10.5 -7.6,10.3 -8,10.2 -8.3,11.8 -11.4,12.3"],
  Senegal: ["-16.5,16.2 -14,16.6 -12.2,14.8 -11.4,12.3 -13.7,12.6 -16.7,12.4 -17.5,14.7"],
  Guinea: ["-13.7,12.6 -11.4,12.3 -8.3,11.8 -8,10.2 -7.6,8.5 -8.5,7.6 -10,8.5 -11,10 -13.2,9.5 -15,11"],
  Liberia: ["-13.2,9.5 -11,10 -10,8.5 -8.5,7.6 -7.5,4.5 -9.5,5.2"],
  IvoryCoast: ["-7.6,10.3 -5.5,10.5 -2.8,9.5 -3,5 -7.5,4.5 -8.5,7.6 -7.6,8.5"],
  Burkina: ["-5.5,10.5 -3.5,13.5 -1.5,14.5 0.5,15 2.3,12.3 0.9,11 -2.8,11 -2.8,9.5"],
  Ghana: ["-2.8,11 0.9,11 0.2,10 1.2,6.1 -2,4.8 -3,5 -2.8,9.5"],
  TogoBenin: ["0.9,11 2.3,12.3 3.6,11.7 2.7,9 2.7,6.3 1.2,6.1 0.2,10"],
  Niger: ["0.5,15 3.5,15.3 4.2,16.8 4.2,19.1 5.8,19.4 12,23.5 13.5,23 15,23 16,20.5 15.5,16.9 13.5,14 13.5,13.5 8,13 3.6,11.7 2.3,12.3"],
  Nigeria: ["2.7,6.3 2.7,9 3.6,11.7 8,13 13.5,13.5 14.5,11.5 12,7.5 9.5,4.5 8.5,4.5 6,4.3 4.5,6.2"],
  Cameroon: ["8.5,4.5 9.5,4.5 12,7.5 14.5,11.5 13.5,13.5 14.5,13 15,10 13.5,7 15,4 16,2 13,2.3 9.8,2.3"],
  Chad: ["15,23 24,19.5 24,15.7 22.5,11 18.9,8.9 15.5,7.5 15,10 14.5,13 13.5,14 15.5,16.9 16,20.5"],
  CentralAfrica: ["15,4 13.5,7 15.5,7.5 18.9,8.9 22.5,11 24,9 27.4,5 22.5,4.2 18.5,3.5 16.2,3"],
  Sudan: ["24,19.5 25,19.5 25,22 37,22 38.5,18 36.5,14.3 35,11 34,10 32,12 24,9 22.5,11 24,15.7"],
  SouthSudan: ["24,9 32,12 34,10 33.5,8 35,5.5 34,4.2 33.5,3.7 31,3.7 27.4,5"],
  Eritrea: ["38.5,18 39.7,15 43,12.7 41,14.5 38,14.5 36.5,14.3"],
  Ethiopia: ["36.5,14.3 38,14.5 41,14.5 43,12.7 42.8,11 44,9 47.9,8 45,5 41.9,3.9 39.8,3.5 36,4.5 35,5.5 33.5,8 34,10 35,11"],
  Somalia: ["42.8,11 43.5,11.5 51,12 51,10.5 47.7,4 41.5,-1.7 41,-0.8 41,3.9 41.9,3.9 45,5 47.9,8 44,9"],
  Kenya: ["36,4.5 39.8,3.5 41.9,3.9 41,3.9 41,-0.8 41.5,-1.7 39.2,-4.7 37.7,-3.5 34,-1 33.9,0.1 35,1.9 34,4.2 35,5.5"],
  Uganda: ["34,4.2 35,1.9 33.9,0.1 34,-1 30.5,-1 29.6,-1.4 30.8,1 31,3.7 33.5,3.7"],
  Tanzania: ["34,-1 37.7,-3.5 39.2,-4.7 38.9,-6.5 39.5,-8 40.4,-10.4 38,-11.3 35,-11.5 34.4,-9.5 32.9,-9.4 31.2,-8.6 29.6,-6.2 29.6,-4.4 30.5,-3.6 30.5,-1"],
  Rwanda: ["30.5,-1 30.5,-3.6 29.6,-4.4 29,-2.7 29.6,-1.4"],
  DRCongo: ["12.3,-6 13,-5.8 16.5,-5.9 18,-8 22,-7 22,-11 24,-11 24,-13 27,-12 28.5,-13 30,-12 28.8,-8.5 29.6,-6.2 29.6,-4.4 29,-2.7 29.6,-1.4 30.8,1 31,3.7 27.4,5 22.5,4.2 18.5,3.5 17.7,-1 16,-2 15,-4.5 12.3,-5"],
  Congo: ["11.2,-4 12.3,-5 15,-4.5 16,-2 17.7,-1 18.5,3.5 16.2,3 16,2 14.3,1.3 13,0 14,-2.5 11.8,-3"],
  Gabon: ["9.8,2.3 13,2.3 14.3,1.3 13,0 14,-2.5 11.8,-3 11.2,-4 8.8,-0.7"],
  Angola: ["12.3,-6 13,-5.8 16.5,-5.9 18,-8 22,-7 22,-11 24,-11 22,-13 22,-16.2 23.4,-17.6 18.5,-17.4 14,-17.4 11.8,-17.3 12,-15.5 13.7,-12 13.3,-8.5"],
  Zambia: ["22,-13 24,-11 24,-13 27,-12 28.5,-13 30,-12 28.8,-8.5 31.2,-8.6 32.9,-9.4 33.3,-11 33,-13.5 30.2,-15 28.5,-15.6 26.5,-17.8 23.4,-17.6 22,-16.2"],
  Malawi: ["32.9,-9.4 34.4,-9.5 35,-11.5 34.6,-13.5 35.2,-14.4 35.8,-16 35,-17 33.3,-14.3 33,-13.5 33.3,-11"],
  Mozambique: ["35,-11.5 38,-11.3 40.4,-10.4 40.7,-15 36.5,-18.5 34.9,-20 35.5,-24 33,-25.5 32.8,-26.8 32,-25 31.3,-22.4 33,-19.5 32.8,-16.8 30.2,-15.7 30.2,-15 33,-13.5 33.3,-14.3 35,-17 35.8,-16 35.2,-14.4 34.6,-13.5"],
  Zimbabwe: ["28.5,-15.6 30.2,-15.7 32.8,-16.8 33,-19.5 31.3,-22.4 29.4,-22.2 27.6,-20.5 25.3,-17.8 26.5,-17.8"],
  Botswana: ["20,-18 25.3,-17.8 27.6,-20.5 29.4,-22.2 26.8,-24.8 25.6,-25.8 23,-25.3 20,-24.7"],
  Namibia: ["11.8,-17.3 14,-17.4 23.4,-17.6 25.3,-17.8 20,-18 20,-28.5 17,-28.7 15,-26.5 14.4,-22.8"],
  SouthAfrica: ["17,-28.7 20,-28.5 20,-24.7 23,-25.3 25.6,-25.8 26.8,-24.8 29.4,-22.2 31.3,-22.4 32,-25 32.8,-26.8 32.4,-28.6 30.9,-30.5 28,-33 25.5,-34 20,-34.8 18.3,-34 18.2,-32"],
  Lesotho: ["27,-29.6 28.5,-28.7 29.4,-29.6 28,-30.6"],
  Madagascar: ["49.3,-12 50.5,-15.5 49.5,-17 47.5,-24.7 45.2,-25.6 43.5,-23.5 44.3,-20 44,-16.8 46.5,-15.7"],
  Antarctica: ["-179.5,-82.6 -163,-82.6 -162.7,-74 -127,-71.8 -99.6,-70.7 -72,-70.2 -60.7,-68.5 -57,-62 -60,-66.5 -60.7,-75.5 -33,-77 -15,-70.2 17.5,-69 49.4,-64.8 69.3,-66.4 70.5,-71 95,-64.8 141.7,-66.4 170.3,-71.2 160,-78 179.5,-82.6 179.5,-88.8 -179.5,-88.8"]
};

const width = 667, height = 900;

const svg = d3.select("body").append("svg")
  .attr("width", width)
  .attr("height", height);

// ---- Panel A: map ----
const projection = d3.geoEquirectangular().scale(106.2).translate([333.5, 240]);
// flat transform so the rough rings don't need spherical winding
const flat = d3.geoTransform({
  point(lon, lat) {
    const p = projection([lon, lat]);
    this.stream.point(p[0], p[1]);
  }
});
const mapPath = d3.geoPath(flat);
const heatScale = d3.scaleQuantize().domain(countRange).range(heatColors);

const features = Object.keys(countryOutlines).map(name => ({
  type: "Feature",
  properties: { name },
  geometry: {
    type: "MultiPolygon",
    coordinates: countryOutlines[name].map(ring => {
      const pts = ring.split(" ").map(p => p.split(",").map(Number));
      pts.push(pts[0]);
      return [pts];
    })
  }
}));

svg.append("g").selectAll("path")
  .data(features)
  .enter().append("path")
  .attr("class", "land")
  .attr("d", mapPath)
  .attr("fill", d => analysisCounts[d.properties.name] ? heatScale(analysisCounts[d.properties.name]) : "#fff");

// colour bar
const barX = d3.scaleBand().domain(heatColors).range([34, 632]).paddingInner(0);
const barTop = 385, barBottom = 409;
svg.append("g").selectAll("rect")
  .data(heatColors)
  .enter().append("rect")
  .attr("x", d => barX(d))
  .attr("y", barTop)
  .attr("width", barX.bandwidth() + 0.3)
  .attr("height", barBottom - barTop)
  .attr("fill", d => d);
svg.append("rect")
  .attr("x", 34).attr("y", barTop)
  .attr("width", 598).attr("height", barBottom - barTop)
  .attr("fill", "none").attr("stroke", "#666").attr("stroke-width", 0.8);

const barAxis = d3.axisBottom(d3.scaleLinear().domain(countRange).range([34, 632]))
  .tickValues(countRange).tickFormat(d3.format("d")).tickSize(11).tickPadding(12);
svg.append("g")
  .attr("transform", `translate(0, ${barBottom})`)
  .call(barAxis)
  .call(g => g.selectAll("path,line").attr("stroke", "#444"))
  .call(g => g.selectAll("text").attr("font-size", 14.5).attr("fill", "#111")
    .attr("font-family", "'Liberation Sans', sans-serif"));

// titles
svg.append("text").attr("x", 26).attr("y", 19).attr("font-size", 19).attr("font-weight", 700)
  .attr("font-family", "'Liberation Sans', sans-serif").attr("fill", "#111").attr("textLength", 13)
  .text("A");
svg.append("text").attr("x", 333.5).attr("y", 16.5).attr("text-anchor", "middle").attr("font-size", 18)
  .attr("font-weight", 700).attr("font-family", "'Liberation Sans', sans-serif").attr("fill", "#111")
  .attr("textLength", 301)
  .text("Frequency of analyses by country");
svg.append("text").attr("class", "heading").attr("x", 19).attr("y", 480).attr("font-size", 18.4).text("B");
svg.append("text").attr("class", "heading").attr("x", 333).attr("y", 480).attr("text-anchor", "middle")
  .attr("font-size", 18.4).text("Year of study publication by region");

// ---- legend ----
const legendColor = d3.scaleOrdinal().domain(regionKeys).range(regionColors);
const legendColX = [202, 310, 431];
const legendRowY = [498, 518];
svg.append("text").attr("x", 154).attr("y", 523.5).attr("font-size", 13).attr("fill", "#111").text("Region");
const legendItem = svg.append("g").selectAll("g")
  .data(legendOrder)
  .enter().append("g")
  .attr("transform", (d, i) => `translate(${legendColX[Math.floor(i / 2)]}, ${legendRowY[i % 2]})`);
legendItem.append("rect")
  .attr("width", 19).attr("height", 19)
  .attr("fill", d => legendColor(d));
legendItem.append("text")
  .attr("x", 26).attr("y", 13.5)
  .attr("font-size", 10.5).attr("fill", "#222")
  .text(d => d);

// ---- Panel B: stacked bars ----
const panel = { left: 37, right: 664, top: 557, bottom: 827 };
const xScale = d3.scaleBand().domain(years)
  .range([panel.left, panel.right]).paddingInner(0.1).paddingOuter(0.15);
const yScale = d3.scaleLinear().domain([0, 15]).range([815, 584.3]);
const xCenter = d => xScale(d) + xScale.bandwidth() / 2;

svg.append("rect")
  .attr("x", panel.left).attr("y", panel.top)
  .attr("width", panel.right - panel.left).attr("height", panel.bottom - panel.top)
  .attr("fill", "#EBEBEB");

const grid = svg.append("g").attr("stroke", "#fff");
grid.selectAll(".minor").data(yMinorTicks).enter().append("line")
  .attr("class", "minor")
  .attr("x1", panel.left).attr("x2", panel.right)
  .attr("y1", d => yScale(d)).attr("y2", d => yScale(d))
  .attr("stroke-width", 0.5);
grid.selectAll(".major").data(yTicks).enter().append("line")
  .attr("class", "major")
  .attr("x1", panel.left).attr("x2", panel.right)
  .attr("y1", d => yScale(d)).attr("y2", d => yScale(d))
  .attr("stroke-width", 1.1);
grid.selectAll(".vert").data(years).enter().append("line")
  .attr("class", "vert")
  .attr("x1", xCenter).attr("x2", xCenter)
  .attr("y1", panel.top).attr("y2", panel.bottom)
  .attr("stroke-width", 1.1);

// stack table built from the arrays above
const rows = years.map((y, i) => {
  const row = { year: y };
  regionKeys.forEach((k, j) => { row[k] = regionValues[j][i]; });
  return row;
});
const layers = d3.stack().keys(regionKeys)(rows);

svg.append("g").selectAll("g")
  .data(layers)
  .enter().append("g")
  .attr("fill", d => legendColor(d.key))
  .selectAll("rect")
  .data(d => d.filter(s => s[1] > s[0]))
  .enter().append("rect")
  .attr("x", d => xScale(d.data.year))
  .attr("y", d => yScale(d[1]))
  .attr("width", xScale.bandwidth())
  .attr("height", d => yScale(d[0]) - yScale(d[1]));

// axes
svg.append("g")
  .attr("class", "y-axis")
  .attr("transform", `translate(${panel.left}, 0)`)
  .call(d3.axisLeft(yScale).tickValues(yTicks).tickSize(3).tickPadding(3))
  .call(g => g.select(".domain").remove())
  .call(g => g.selectAll("text").attr("font-size", 11.5));

svg.append("g")
  .attr("class", "x-axis")
  .attr("transform", `translate(0, ${panel.bottom})`)
  .call(d3.axisBottom(xScale).tickSize(3))
  .call(g => g.select(".domain").remove())
  .call(g => g.selectAll("text")
    .attr("font-size", 10.4)
    .attr("text-anchor", "middle")
    .attr("dy", null)
    .attr("y", null)
    .attr("transform", "translate(9, 31) rotate(-90)"));

svg.append("text").attr("x", 350).attr("y", 896).attr("text-anchor", "middle")
  .attr("font-size", 13).attr("fill", "#111").text("year");
svg.append("text").attr("transform", "translate(15, 692) rotate(-90)").attr("text-anchor", "middle")
  .attr("font-size", 12.7).attr("fill", "#111").text("Number of studies");
</script>
</body>
</html>
